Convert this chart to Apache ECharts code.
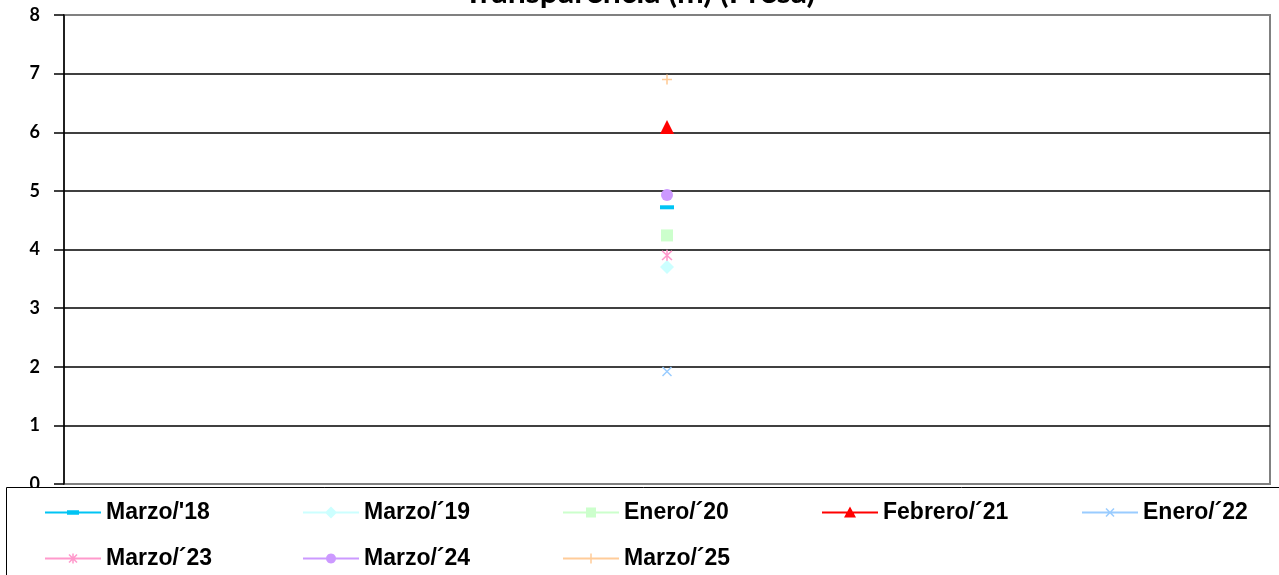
<!DOCTYPE html>
<html>
<head>
<meta charset="utf-8">
<script src="https://cdn.jsdelivr.net/npm/echarts@6/dist/echarts.min.js"></script>
<style>
  html, body { margin: 0; padding: 0; background: #fff; }
  #chart { width: 1279px; height: 575px; }
</style>
</head>
<body>
<div id="chart"></div>
<script>
// ---- data ----
const categories = [''];
const marzo18   = [4.72];
const marzo19   = [3.70];
const enero20   = [4.24];
const febrero21 = [6.09];
const enero22   = [1.92];
const marzo23   = [3.90];
const marzo24   = [4.93];
const marzo25   = [6.90];
const yMin = 0, yMax = 8, yStep = 1;

// ---- small polygon helpers for the line-drawn markers ----
function poly(pts) {
  let a = 0;
  for (let i = 0; i < pts.length; i++) {
    const p = pts[i], q = pts[(i + 1) % pts.length];
    a += p[0] * q[1] - q[0] * p[1];
  }
  if (a < 0) pts = pts.slice().reverse();
  return 'M' + pts.map(p => p[0].toFixed(2) + ',' + p[1].toFixed(2)).join('L') + 'Z';
}
function bar(x1, y1, x2, y2, w) {
  const dx = x2 - x1, dy = y2 - y1, len = Math.hypot(dx, dy);
  const nx = -dy / len * w / 2, ny = dx / len * w / 2;
  return poly([[x1 + nx, y1 + ny], [x2 + nx, y2 + ny], [x2 - nx, y2 - ny], [x1 - nx, y1 - ny]]);
}
function disc(cx, cy, r) {
  const pts = [];
  for (let i = 0; i < 28; i++) {
    const t = i / 28 * Math.PI * 2;
    pts.push([cx + r * Math.cos(t), cy + r * Math.sin(t)]);
  }
  return poly(pts);
}

// chart markers (drawn as filled strokes)
const xMark    = 'path://' + bar(0, 0, 10, 10, 1.6) + bar(0, 10, 10, 0, 1.6);
const starMark = 'path://' + bar(0, 0, 10, 10, 1.6) + bar(0, 10, 10, 0, 1.6) + bar(5, -1, 5, 11, 1.6);
const plusMark = 'path://' + bar(0, 5, 10, 5, 1.6) + bar(5, 0, 5, 10, 1.6);

// legend icons: a 56x14 line with the marker in its middle
const IW = 56, IH = 14, CX = 28, CY = 7;
const frame = 'M0,0M' + IW + ',' + IH;
const lineBar = bar(0, CY, IW, CY, 1.8);
function legendIcon(shape) { return 'path://' + frame + lineBar + shape; }
const icons = {
  dash:     legendIcon(poly([[CX - 6, CY - 2.2], [CX + 6, CY - 2.2], [CX + 6, CY + 2.2], [CX - 6, CY + 2.2]])),
  diamond:  legendIcon(poly([[CX, CY - 6], [CX + 6, CY], [CX, CY + 6], [CX - 6, CY]])),
  square:   legendIcon(poly([[CX - 5, CY - 5], [CX + 5, CY - 5], [CX + 5, CY + 5], [CX - 5, CY + 5]])),
  triangle: legendIcon(poly([[CX, CY - 6], [CX + 6, CY + 5], [CX - 6, CY + 5]])),
  cross:    legendIcon(bar(CX - 4, CY - 4, CX + 4, CY + 4, 1.5) + bar(CX - 4, CY + 4, CX + 4, CY - 4, 1.5)),
  star:     legendIcon(bar(CX - 4, CY - 4, CX + 4, CY + 4, 1.5) + bar(CX - 4, CY + 4, CX + 4, CY - 4, 1.5) + bar(CX, CY - 5, CX, CY + 5, 1.5)),
  circle:   legendIcon(disc(CX, CY, 5)),
  plus:     legendIcon(bar(CX, CY - 5, CX, CY + 5, 1.5))
};

const seriesDefs = [
  { name: "Marzo/'18",   data: marzo18,   color: '#00C4F4', symbol: 'rect',     size: [14, 4], icon: icons.dash },
  { name: 'Marzo/´19',   data: marzo19,   color: '#CCFFFF', symbol: 'diamond',  size: 14,      icon: icons.diamond },
  { name: 'Enero/´20',   data: enero20,   color: '#CCFFCC', symbol: 'rect',     size: 12,      icon: icons.square },
  { name: 'Febrero/´21', data: febrero21, color: '#FF0000', symbol: 'triangle', size: 14,      icon: icons.triangle },
  { name: 'Enero/´22',   data: enero22,   color: '#99CCFF', symbol: xMark,      size: 10,      icon: icons.cross },
  { name: 'Marzo/´23',   data: marzo23,   color: '#FF99CC', symbol: starMark,   size: 11,      icon: icons.star },
  { name: 'Marzo/´24',   data: marzo24,   color: '#CC99FF', symbol: 'circle',   size: 12,      icon: icons.circle },
  { name: 'Marzo/´25',   data: marzo25,   color: '#FFCC99', symbol: plusMark,   size: 10,      icon: icons.plus }
];

// legend: five columns, two rows (one legend component per entry)
const legendCols = [45, 303, 563, 822, 1082];
const legendRows = [501, 547];

const legendFont = { fontFamily: '"Liberation Sans", Arial, sans-serif', fontWeight: 'bold', fontSize: 23, color: '#000' };

const option = {
  animation: false,
  backgroundColor: '#fff',
  title: {
    text: 'Transparencia (m) (Presa)',
    left: 'center',
    top: -23,
    padding: 0,
    textStyle: { fontFamily: 'Lato, sans-serif', fontWeight: 'bold', fontSize: 32, color: '#000' }
  },
  grid: {
    left: 64, right: 9, top: 15, bottom: 91,
    show: true,
    borderColor: '#808080',
    borderWidth: 2,
    backgroundColor: '#fff'
  },
  xAxis: {
    type: 'category',
    data: categories,
    axisLine: { show: false },
    axisTick: { show: false },
    axisLabel: { show: false },
    splitLine: { show: false }
  },
  yAxis: {
    type: 'value',
    min: yMin, max: yMax, interval: yStep,
    axisLine: { show: true, lineStyle: { color: '#000', width: 1.5 } },
    axisTick: { show: true, length: 10, lineStyle: { color: '#000', width: 1.5 } },
    axisLabel: { margin: 24, fontFamily: 'Lato, sans-serif', fontWeight: 'bold', fontSize: 18, color: '#000' },
    splitLine: { show: true, showMinLine: false, showMaxLine: false, lineStyle: { color: '#000', width: 1.5 } }
  },
  legend: seriesDefs.map((s, i) => ({
    left: legendCols[i % 5],
    top: legendRows[Math.floor(i / 5)],
    padding: 0,
    itemWidth: IW,
    itemHeight: IH,
    z: 10,
    selectedMode: false,
    itemStyle: { borderWidth: 0 },
    textStyle: legendFont,
    data: [{ name: s.name, icon: s.icon }]
  })),
  graphic: [{
    type: 'rect',
    z: 5,
    shape: { x: 6.5, y: 487.5, width: 1400, height: 200 },
    style: { fill: '#fff', stroke: '#000', lineWidth: 1 },
    silent: true
  }],
  series: seriesDefs.map(s => ({
    name: s.name,
    type: 'line',
    data: s.data,
    symbol: s.symbol,
    symbolSize: s.size,
    showSymbol: true,
    itemStyle: { color: s.color, borderWidth: 0 },
    lineStyle: { color: s.color, width: 1.5 },
    emphasis: { disabled: true },
    z: 3
  }))
};

const chart = echarts.init(document.getElementById('chart'), null, { renderer: 'canvas' });
chart.setOption(option);
</script>
</body>
</html>
